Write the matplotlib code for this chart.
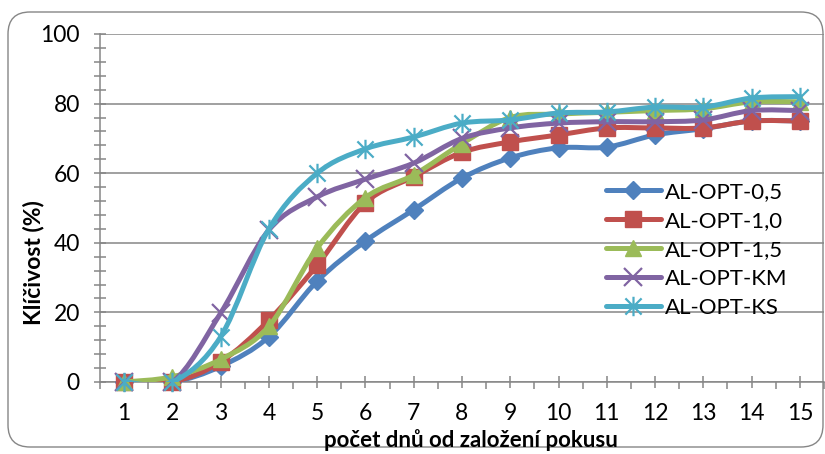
import numpy as np
import matplotlib
matplotlib.use("Agg")
import matplotlib.pyplot as plt
from matplotlib.path import Path
from matplotlib.patches import PathPatch, FancyBboxPatch
from matplotlib.lines import Line2D
from matplotlib.transforms import IdentityTransform
from matplotlib.ticker import MultipleLocator

# ======================================
# data
# ======================================
days = list(range(1, 16))
opt_05 = [0, 0, 4.5, 13, 29, 40.5, 49.5, 58.6, 64.4, 67.3, 67.5, 71, 72.8, 75, 75]
opt_10 = [0, 0, 5.8, 17.8, 33.6, 51.5, 59, 66, 69, 71, 73, 73, 73, 75, 75]
opt_15 = [0, 1.5, 6.5, 16, 38.5, 53, 59.5, 68.5, 76, 77, 77.5, 78, 78.5, 80.5, 80.5]
opt_km = [0, 0, 19.8, 43.7, 53.2, 58.3, 62.9, 70, 73, 74.4, 74.8, 74.8, 75.3, 78, 78]
opt_ks = [0, 0, 13, 44, 60, 67, 70.4, 74.4, 75.3, 77.3, 77.6, 79, 79, 81.6, 82]

labels = ["AL-OPT-0,5", "AL-OPT-1,0", "AL-OPT-1,5", "AL-OPT-KM", "AL-OPT-KS"]
colors = ["#4F81BD", "#C0504D", "#9BBB59", "#8064A2", "#4BACC6"]

# asterisk marker like the Excel "star"
star = Path([(-1, -1), (1, 1), (-1, 1), (1, -1), (0, -1.2), (0, 1.2)],
            [Path.MOVETO, Path.LINETO, Path.MOVETO, Path.LINETO, Path.MOVETO, Path.LINETO])
markers = ["D", "s", "^", "x", star]
msizes = [9.5, 11, 12, 13, 14]

plt.rcParams['font.family'] = ['Lato', 'DejaVu Sans']


def smooth_path(x, y):
    # cubic bezier through the points (catmull-rom style, like excel smoothing)
    pts = np.column_stack([x, y]).astype(float)
    verts = [pts[0]]
    codes = [Path.MOVETO]
    n = len(pts)
    for i in range(n - 1):
        p0 = pts[i - 1] if i > 0 else pts[i]
        p1 = pts[i]
        p2 = pts[i + 1]
        p3 = pts[i + 2] if i + 2 < n else pts[i + 1]
        c1 = p1 + (p2 - p0) / 6.0
        c2 = p2 - (p3 - p1) / 6.0
        verts += [c1, c2, p2]
        codes += [Path.CURVE4] * 3
    return Path(verts, codes)


fig = plt.figure(figsize=(8.25, 4.54), dpi=100)
ax = fig.add_axes([100 / 825, 1 - 382 / 454, 724 / 825, 348 / 454])

series = [opt_05, opt_10, opt_15, opt_km, opt_ks]
handles = []
for i, vals in enumerate(series):
    c = colors[i]
    ax.add_patch(PathPatch(smooth_path(days, vals), fill=False, edgecolor=c,
                           lw=3.6, capstyle="round", joinstyle="round", zorder=3 + 2 * i))
    mew = 1.6 if i >= 3 else 1
    ax.plot(days, vals, ls="none", marker=markers[i], ms=msizes[i], color=c,
            mec=c, mew=mew, zorder=4 + 2 * i, clip_on=False)
    handles.append(Line2D([], [], color=c, lw=3.6, solid_capstyle="round",
                          marker=markers[i], ms=msizes[i], mec=c, mew=mew))

ax.set_xlim(0.5, 15.5)
ax.set_ylim(0, 100)
ax.set_xticks(days)
ax.xaxis.set_minor_locator(MultipleLocator(1, offset=0.5))
ax.yaxis.set_major_locator(MultipleLocator(20))
ax.yaxis.set_minor_locator(MultipleLocator(4))

grid_c = "#868686"
ax.grid(axis="y", which="major", color=grid_c, lw=1.1, zorder=1)
ax.set_axisbelow(True)
for s in ["top", "right"]:
    ax.spines[s].set_visible(False)
for s in ["left", "bottom"]:
    ax.spines[s].set_color(grid_c)
    ax.spines[s].set_linewidth(1.1)

ax.tick_params(axis="x", which="major", direction="inout", length=8, width=1.1,
               color=grid_c, labelsize=16.5, pad=11)
ax.tick_params(axis="x", which="minor", direction="out", length=5, width=1.1, color=grid_c)
ax.tick_params(axis="y", which="both", direction="inout", length=9, width=1.1,
               color=grid_c, labelsize=16.5, pad=10)

fig.text(471 / 825, 1 - 440 / 454, "počet dnů od založení pokusu", ha="center", va="center",
         fontsize=16, fontweight="bold")
fig.text(33 / 825, 1 - 263 / 454, "Klíčivost (%)", ha="center", va="center",
         rotation=90, fontsize=16.5, fontweight="bold")

leg = ax.legend(handles, labels, loc="upper left", bbox_to_anchor=(595 / 825, 1 - 171 / 454),
                bbox_transform=fig.transFigure, frameon=False, fontsize=16,
                handlelength=2.45, handletextpad=0.2, labelspacing=0.4, borderpad=0)
leg.set_zorder(20)

# rounded chart border
border = FancyBboxPatch((8, 7), 815, 435, boxstyle="round,pad=0,rounding_size=22",
                        transform=IdentityTransform(), fill=False, edgecolor=grid_c, lw=1.0)
fig.patches.append(border)

plt.savefig("out.png", dpi=100)
plt.close()
